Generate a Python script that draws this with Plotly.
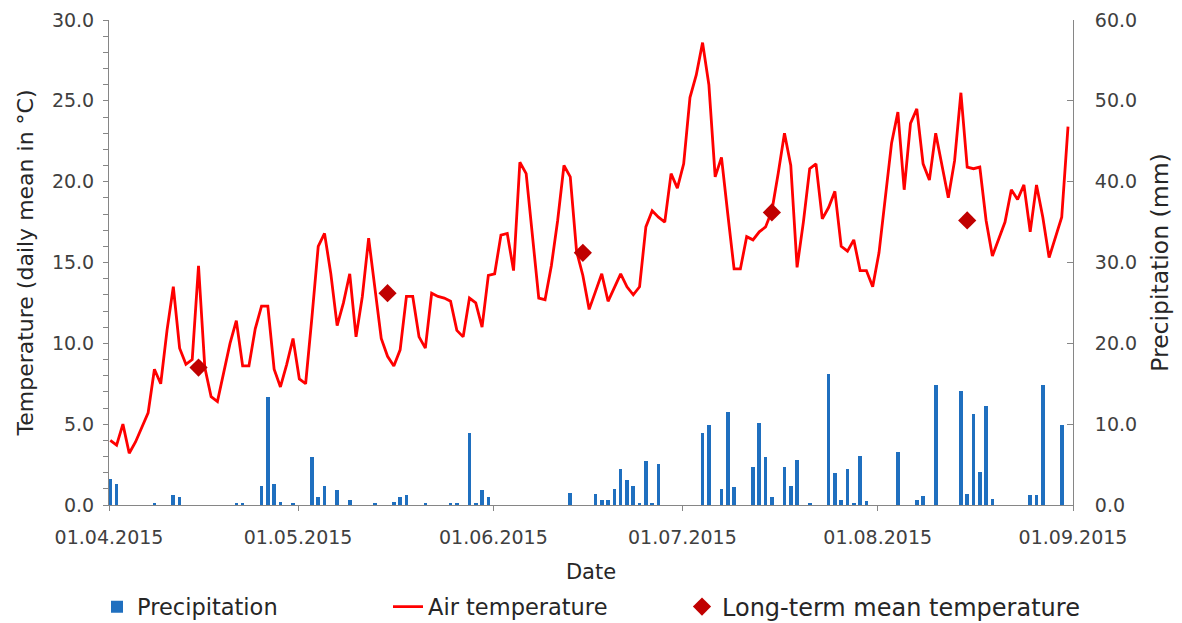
import pandas as pd
import plotly.graph_objects as go

# ---------------- data ----------------
temp_apr = [4.0, 3.7, 5.0, 3.2, 3.9, 4.8, 5.7, 8.4, 7.5, 10.8, 13.5, 9.7, 8.7, 9.0, 14.8,
            8.5, 6.7, 6.4, 8.2, 10.0, 11.4, 8.6, 8.6, 10.9, 12.3, 12.3, 8.4, 7.3, 8.7, 10.3]
temp_may = [7.8, 7.5, 11.6, 16.0, 16.8, 14.3, 11.1, 12.5, 14.3, 10.4, 12.9, 16.5, 13.4, 10.3, 9.2,
            8.6, 9.6, 12.9, 12.9, 10.4, 9.7, 13.1, 12.9, 12.8, 12.6, 10.8, 10.4, 12.8, 12.5, 11.0, 14.2]
temp_jun = [14.3, 16.7, 16.8, 14.5, 21.2, 20.5, 16.8, 12.8, 12.7, 14.8, 17.6, 21.0, 20.3, 15.7, 14.2,
            12.1, 13.2, 14.3, 12.6, 13.4, 14.3, 13.5, 13.0, 13.5, 17.2, 18.2, 17.8, 17.5, 20.5, 19.6]
temp_jul = [21.1, 25.2, 26.6, 28.6, 26.0, 20.3, 21.5, 18.0, 14.6, 14.6, 16.6, 16.4, 16.9, 17.2, 18.2,
            20.5, 23.0, 21.0, 14.7, 17.5, 20.8, 21.1, 17.7, 18.4, 19.4, 16.0, 15.7, 16.4, 14.5, 14.5, 13.5]
temp_aug = [15.6, 18.9, 22.4, 24.3, 19.5, 23.6, 24.5, 21.1, 20.1, 23.0, 20.9, 19.0, 21.3, 25.5, 20.9,
            20.8, 20.9, 17.6, 15.4, 16.4, 17.5, 19.5, 18.9, 19.8, 16.9, 19.8, 17.8, 15.3, 16.6, 17.8, 23.4]

prec_apr = [3.2, 2.6, 0, 0, 0, 0, 0, 0.2, 0, 0, 1.2, 1.0, 0, 0, 0,
            0, 0, 0, 0, 0, 0.2, 0.2, 0, 0, 2.3, 13.3, 2.6, 0.4, 0, 0.2]
prec_may = [0, 0, 5.9, 1.0, 2.3, 0, 1.9, 0, 0.6, 0, 0, 0, 0.2, 0, 0,
            0.4, 1.0, 1.2, 0, 0, 0.2, 0, 0, 0, 0.2, 0.2, 0, 8.9, 0.2, 1.9, 1.0]
prec_jun = [0, 0, 0, 0, 0, 0, 0, 0, 0, 0, 0, 0, 1.5, 0, 0,
            0, 1.3, 0.6, 0.6, 2.0, 4.5, 3.1, 2.3, 0.2, 5.4, 0.2, 5.1, 0, 0, 0]
prec_jul = [0, 0, 0, 8.9, 9.9, 0, 2.0, 11.5, 2.2, 0, 0, 4.7, 10.1, 6.0, 1.0,
            0, 4.7, 2.3, 5.6, 0, 0.2, 0, 0, 16.2, 4.0, 0.6, 4.5, 0.2, 6.1, 0.5, 0]
prec_aug = [0, 0, 0, 6.6, 0, 0, 0.6, 1.1, 0, 14.9, 0, 0, 0, 14.1, 1.4,
            11.3, 4.1, 12.3, 0.8, 0, 0, 0, 0, 0, 1.2, 1.2, 14.9, 0, 0, 9.9, 0]

ltm_dates = ["2015-04-15", "2015-05-15", "2015-06-15", "2015-07-15", "2015-08-15"]
ltm_values = [8.5, 13.1, 15.6, 18.1, 17.6]

tick_dates = ["2015-04-01", "2015-05-01", "2015-06-01", "2015-07-01", "2015-08-01", "2015-09-01"]
tick_labels = ["01.04.2015", "01.05.2015", "01.06.2015", "01.07.2015", "01.08.2015", "01.09.2015"]

temperature = temp_apr + temp_may + temp_jun + temp_jul + temp_aug
precipitation = prec_apr + prec_may + prec_jun + prec_jul + prec_aug
dates = pd.date_range("2015-04-01", "2015-08-31", freq="D") + pd.Timedelta(hours=5)
ltm_x = pd.to_datetime(ltm_dates) + pd.Timedelta(hours=5)

# ---------------- style ----------------
FONT = "DejaVu Sans, sans-serif"
TICK = "#404040"
TITLE = "#262626"
AX = "#868686"
W, H = 1182, 623

fig = go.Figure()
fig.add_trace(go.Bar(
    x=dates, y=precipitation, name="Precipitation", yaxis="y2", legend="legend",
    marker=dict(color="#1F6FBF", line=dict(width=0)),
    width=0.58 * 86400000,
))
fig.add_trace(go.Scatter(
    x=dates, y=temperature, name="Air temperature", mode="lines", legend="legend2",
    line=dict(color="#FF0000", width=2.8),
))
fig.add_trace(go.Scatter(
    x=ltm_x, y=ltm_values, name="Long-term mean temperature", mode="markers", legend="legend3",
    marker=dict(symbol="diamond", size=14, color="#C00000"),
))


def legend_at(px_x, size=22.5):
    return dict(
        orientation="h", xref="container", yref="container",
        x=px_x / W, xanchor="left", y=(H - 607) / H, yanchor="middle",
        font=dict(family=FONT, size=size, color=TITLE),
        itemwidth=30, bgcolor="rgba(0,0,0,0)",
    )


fig.update_layout(
    width=W, height=H,
    margin=dict(l=109, r=109, t=20, b=118, autoexpand=False),
    paper_bgcolor="white", plot_bgcolor="white",
    font=dict(family=FONT, size=19, color=TICK),
    showlegend=True,
    legend=legend_at(97),
    legend2=legend_at(388),
    legend3=legend_at(682, 24),
    bargap=0,
    xaxis=dict(
        type="date", range=["2015-04-01", "2015-09-01"],
        tickmode="array", tickvals=tick_dates, ticktext=tick_labels,
        ticks="outside", ticklen=5, tickcolor=AX,
        showline=True, linecolor=AX, linewidth=1, showgrid=False, zeroline=False,
        tickfont=dict(size=19, color=TICK), ticklabelstandoff=10, automargin=False,
        title=dict(text="Date", font=dict(size=21, color=TITLE), standoff=19),
    ),
    yaxis=dict(
        range=[0, 30], dtick=5, tickformat=".1f",
        ticks="outside", ticklen=5, tickcolor=AX,
        minor=dict(dtick=1, ticks="outside", ticklen=5, tickcolor=AX),
        showline=True, linecolor=AX, linewidth=1, showgrid=False, zeroline=False,
        tickfont=dict(size=19, color=TICK), ticklabelstandoff=5, automargin=False,
        title=dict(text="Temperature (daily mean in °C)", font=dict(size=22, color=TITLE), standoff=12),
    ),
    yaxis2=dict(
        range=[0, 60], dtick=10, tickformat=".1f", overlaying="y", side="right",
        ticks="inside", ticklen=6, tickcolor=AX,
        showline=True, linecolor=AX, linewidth=1, showgrid=False, zeroline=False,
        tickfont=dict(size=19, color=TICK), ticklabelstandoff=17, automargin=False,
        title=dict(text="Precipitation (mm)", font=dict(size=23.5, color=TITLE), standoff=15),
    ),
)

fig.write_html(
    "out.html",
    config={"displayModeBar": False},
    post_script="document.body.style.margin='0px'; document.body.style.overflow='hidden';",
)
